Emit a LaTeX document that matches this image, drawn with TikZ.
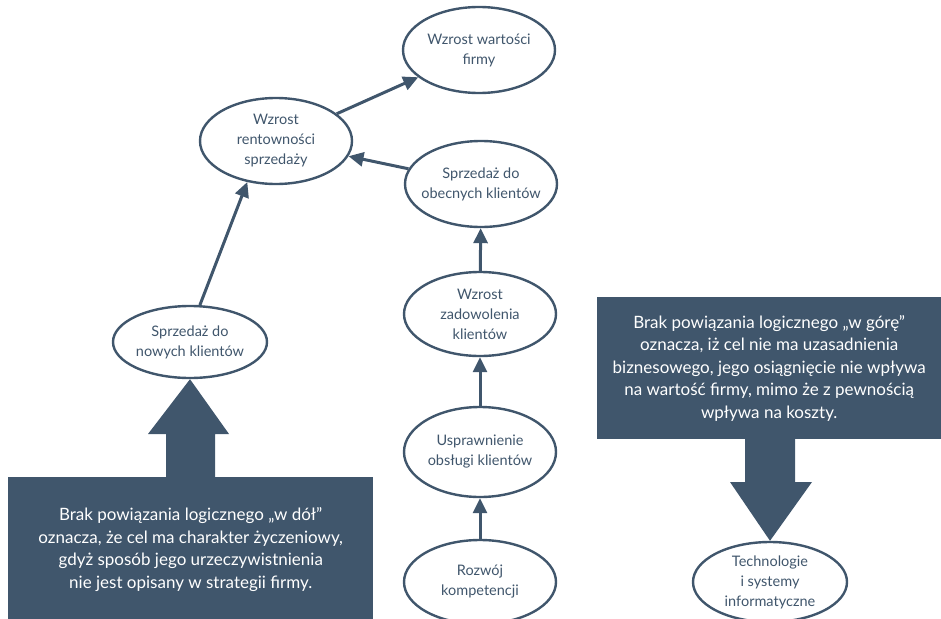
\documentclass[tikz,border=0pt]{standalone}
\usepackage{fontspec}
\setmainfont{Lato}
\usetikzlibrary{shapes.geometric,arrows.meta}
\definecolor{slate}{RGB}{64,86,108}
\begin{document}
\begin{tikzpicture}[x=1pt,y=-1pt,
  goal/.style={ellipse,draw=slate,line width=2.4pt,fill=white,text=slate,inner xsep=-20pt,inner ysep=-10pt,
    minimum width=152pt,minimum height=86pt,align=center,font=\fontsize{14.5}{20}\selectfont},
  link/.style={draw=slate,line width=3pt,-{Triangle[length=15pt,width=14pt]}},
  note/.style={fill=slate,text=white,align=center,inner sep=0pt,font=\fontsize{17}{22.5}\selectfont}]
\useasboundingbox (0,0) rectangle (941,618);
% goals
\node[goal] (wart) at (479,50) {Wzrost wartości\\firmy};
\node[goal] (rent) at (276,141) {Wzrost\\rentowności\\sprzedaży};
\node[goal] (obec) at (481,184) {Sprzedaż do\\obecnych klientów};
\node[goal,minimum height=84pt] (zad) at (480,314) {Wzrost\\zadowolenia\\klientów};
\node[goal,minimum height=90pt] (uspr) at (480,452) {Usprawnienie\\obsługi klientów};
\node[goal,minimum height=84pt] (rozw) at (480,582) {Rozwój\\kompetencji};
\node[goal,minimum width=154pt,minimum height=72pt] (now) at (190,342) {Sprzedaż do\\nowych klientów};
\node[goal,minimum width=154pt,minimum height=80pt] (tech) at (770,582) {Technologie\\i systemy\\informatyczne};
% connectors
\draw[link] (rent) -- (wart);
\draw[link] (obec) -- (rent);
\draw[link] (now.75) -- (rent.235);
\draw[link] (zad) -- (obec);
\draw[link] (uspr) -- (zad);
\draw[link] (rozw) -- (uspr);
% notes
\node[note,minimum width=365pt,minimum height=145pt,anchor=north west] (lnote) at (8,477)
  {Brak powiązania logicznego „w dół”\\oznacza, że cel ma charakter życzeniowy,\\gdyż sposób jego urzeczywistnienia\\nie jest opisany w strategii firmy.};
\node[note,minimum width=344pt,minimum height=142pt,anchor=north west] (rnote) at (597,297)
  {Brak powiązania logicznego „w górę”\\oznacza, iż cel nie ma uzasadnienia\\biznesowego, jego osiągnięcie nie wpływa\\na wartość firmy, mimo że z pewnością\\wpływa na koszty.};
% block arrows
\fill[slate] (166,478) -- (166,434) -- (148,434) -- (now.south) -- (229,434) -- (215,434) -- (215,478) -- cycle;
\fill[slate] (745,436) -- (745,482) -- (730,482) -- (tech.north) -- (812,482) -- (795,482) -- (795,436) -- cycle;
\end{tikzpicture}
\end{document}
